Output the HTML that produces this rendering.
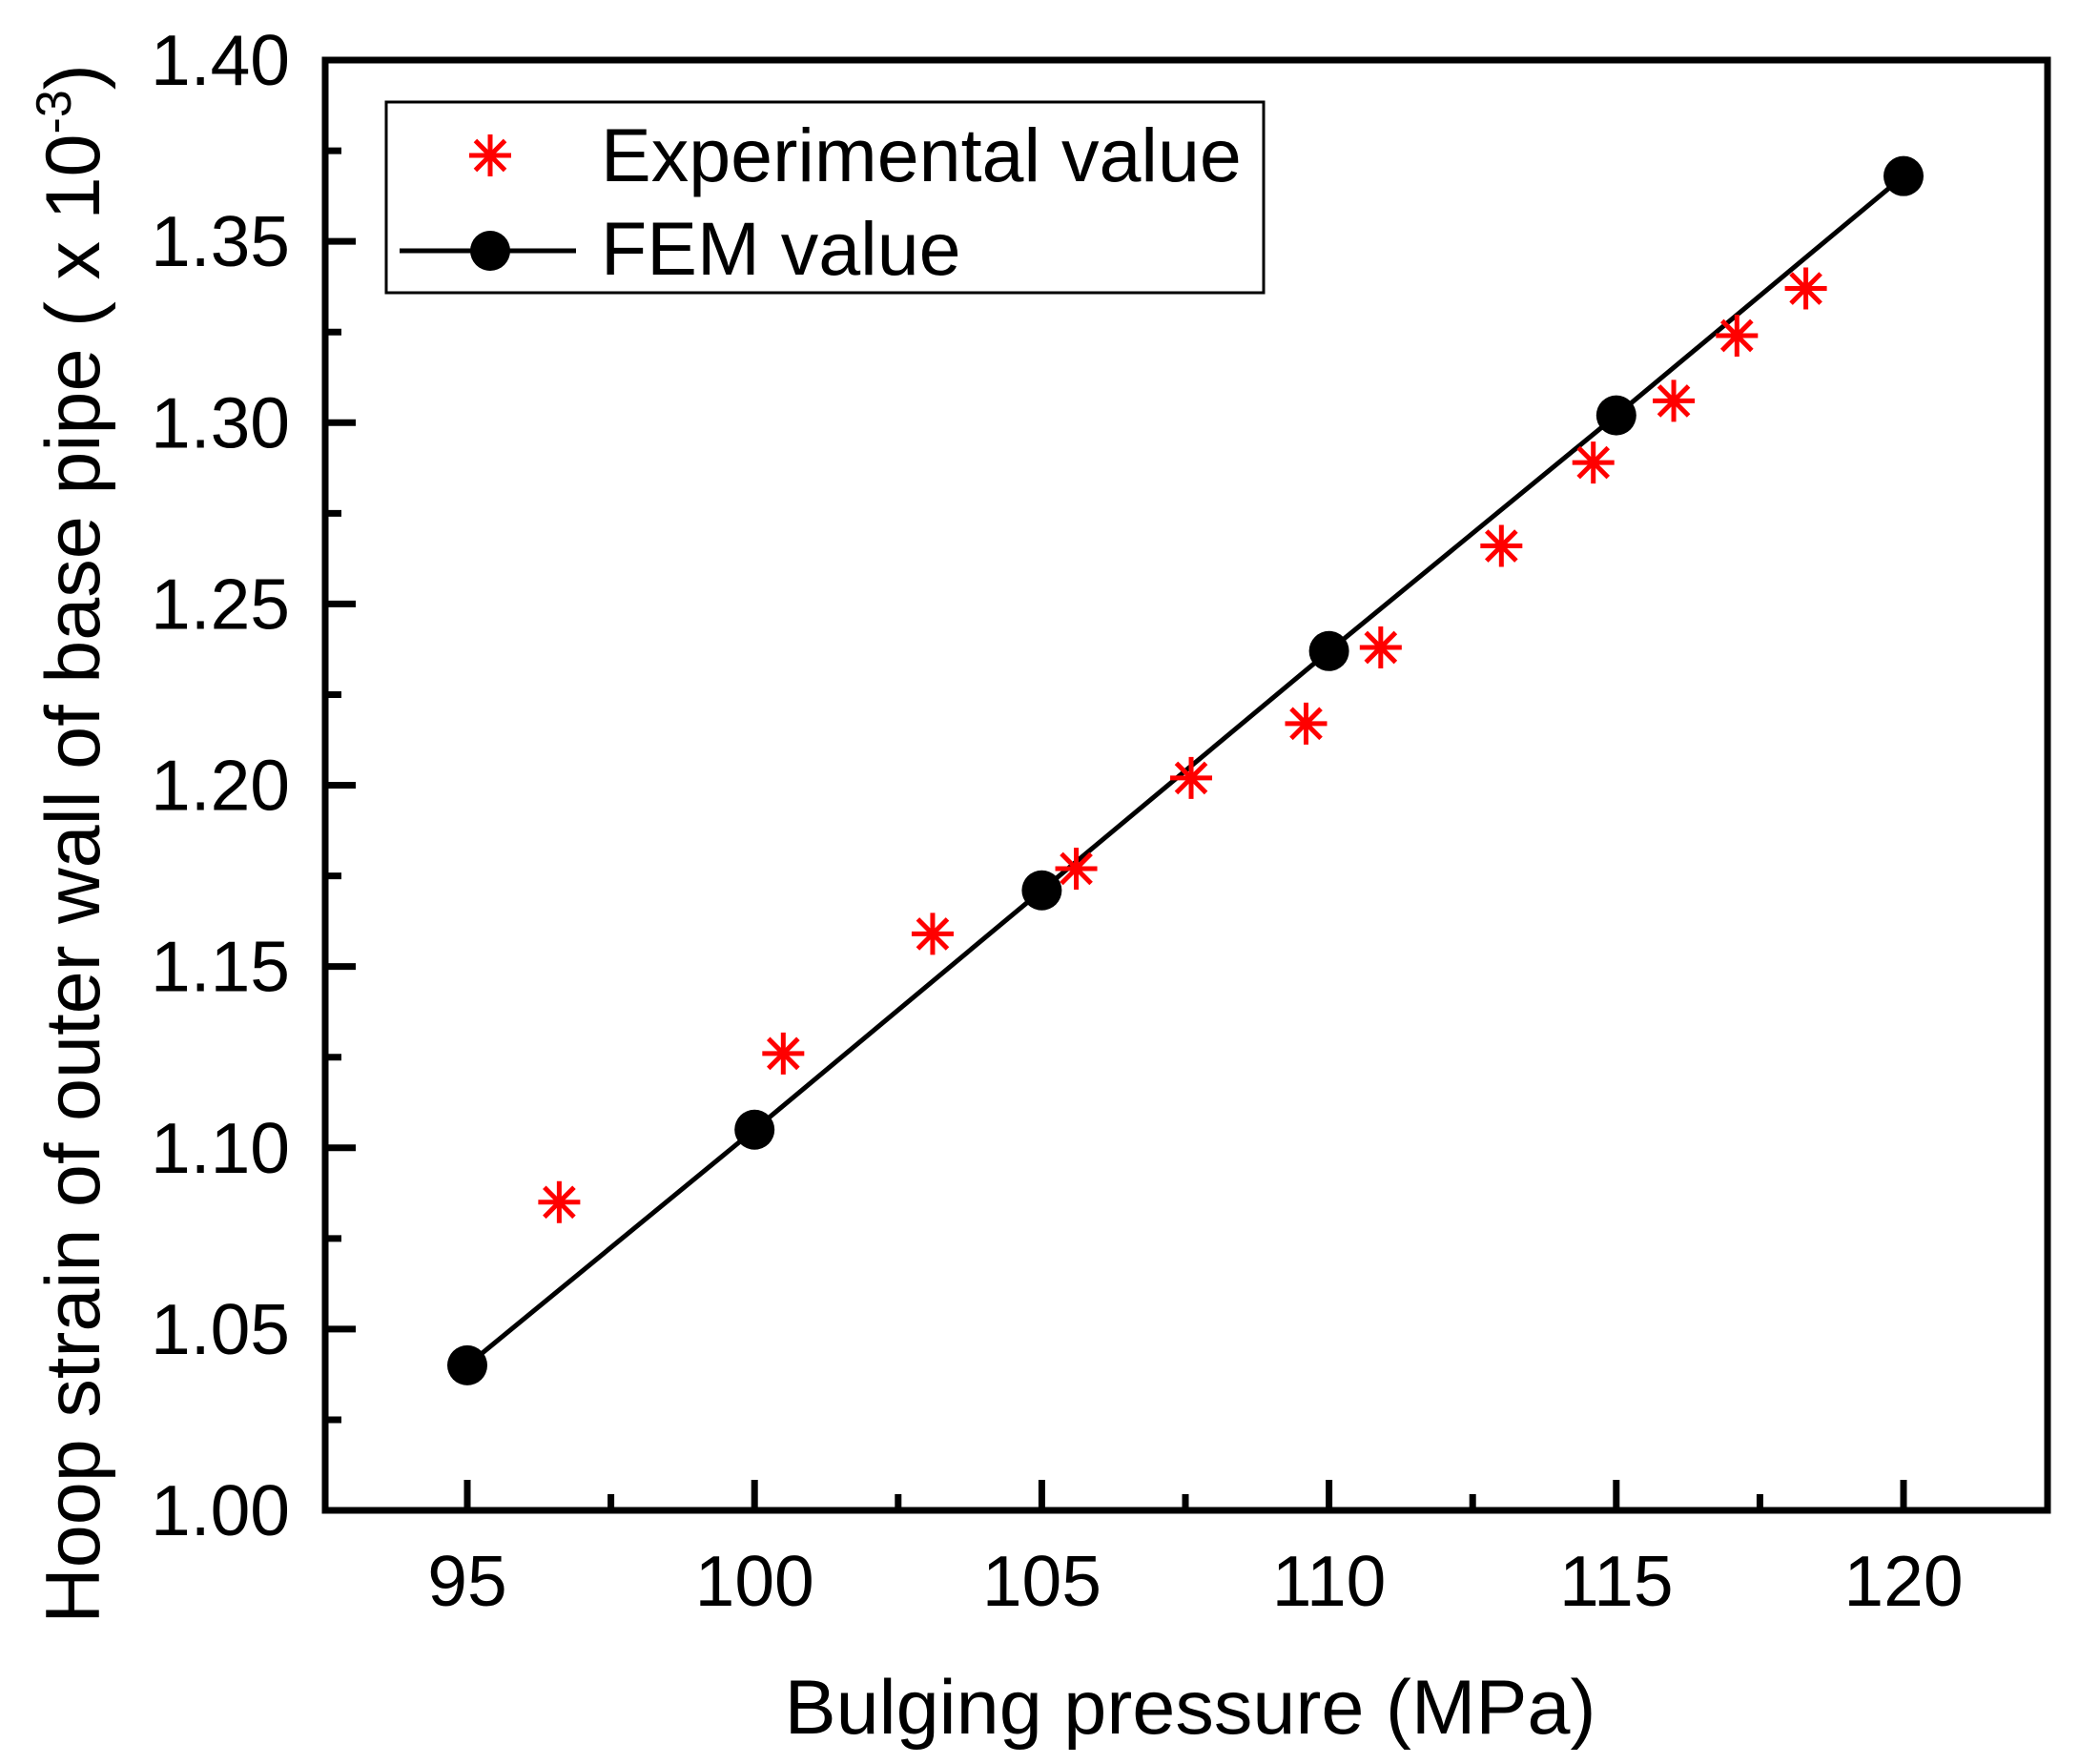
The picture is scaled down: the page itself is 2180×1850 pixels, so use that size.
<!DOCTYPE html>
<html><head><meta charset="utf-8"><style>
html,body{margin:0;padding:0;background:#fff;}
svg{display:block;font-family:"Liberation Sans",Arial,sans-serif;}
</style></head><body>
<svg id="chart" width="2180" height="1850" viewBox="0 0 2180 1850" xmlns="http://www.w3.org/2000/svg">
<rect x="0" y="0" width="2180" height="1850" fill="#fff"/>
<g id="grid"></g>
<rect x="341" y="63" width="1806" height="1521" fill="none" stroke="#000" stroke-width="7"/>
<g id="ticks"></g>
<g id="series"></g>
<text x="1248" y="1818" font-size="81" text-anchor="middle">Bulging pressure (MPa)</text>
<text transform="translate(104,885) rotate(-90)" font-size="81" text-anchor="middle">Hoop strain of outer wall of base pipe ( x 10<tspan dy="-30" font-size="52">-3</tspan><tspan dy="30">)</tspan></text>
<g>
<rect x="405" y="107" width="920" height="200" fill="#fff" stroke="#000" stroke-width="3"/>
<g id="legend-star"></g>
<text x="630" y="190" font-size="79">Experimental value</text>
<line x1="419" y1="263" x2="604" y2="263" stroke="#000" stroke-width="5"/>
<circle cx="514" cy="263" r="21" fill="#000"/>
<text x="630" y="288" font-size="79">FEM value</text>
</g>
</svg>
<script>
const xTicks = [95, 100, 105, 110, 115, 120];
const yTicks = [1.00, 1.05, 1.10, 1.15, 1.20, 1.25, 1.30, 1.35, 1.40];
const yTickLabels = ["1.00","1.05","1.10","1.15","1.20","1.25","1.30","1.35","1.40"];
const femX = [95, 100, 105, 110, 115, 120];
const femY = [1.040, 1.105, 1.171, 1.237, 1.302, 1.368];
const expX = [96.6, 100.5, 103.1, 105.6, 107.6, 109.6, 110.9, 113.0, 114.6, 116.0, 117.1, 118.3];
const expY = [1.085, 1.126, 1.159, 1.177, 1.202, 1.217, 1.238, 1.266, 1.289, 1.306, 1.324, 1.337];

const NS = "http://www.w3.org/2000/svg";
const X0 = 490, X1 = 1996; // 95 -> 120
const Y0 = 1584, Y1 = 63;  // 1.00 -> 1.40
function sx(v){ return X0 + (v - 95) / 25 * (X1 - X0); }
function sy(v){ return Y0 - (v - 1.0) / 0.4 * (Y0 - Y1); }
function mk(tag, attrs, parent){
  const e = document.createElementNS(NS, tag);
  for (const k in attrs) e.setAttribute(k, attrs[k]);
  parent.appendChild(e);
  return e;
}
const ticksG = document.getElementById("ticks");
xTicks.forEach((t, i) => {
  const x = sx(t);
  const l = mk("line", {x1:x, y1:Y0, x2:x, y2:Y0-32, stroke:"#000", "stroke-width":7}, ticksG);
  
  
  const lb = mk("text", {x:x, y:1684, "font-size":75, "text-anchor":"middle"}, ticksG);
  lb.textContent = String(t);
  
  
  if (i < xTicks.length - 1) {
    const xm = sx(t + 2.5);
    const m = mk("line", {x1:xm, y1:Y0, x2:xm, y2:Y0-17, stroke:"#000", "stroke-width":7}, ticksG);
    
    
  }
});
yTicks.forEach((t, i) => {
  const y = sy(t);
  const l = mk("line", {x1:341, y1:y, x2:373, y2:y, stroke:"#000", "stroke-width":7}, ticksG);
  
  
  const lb = mk("text", {x:304, y:y+26, "font-size":75, "text-anchor":"end"}, ticksG);
  lb.textContent = yTickLabels[i];
  
  
  if (i < yTicks.length - 1) {
    const ym = sy(t + 0.025);
    const m = mk("line", {x1:341, y1:ym, x2:358, y2:ym, stroke:"#000", "stroke-width":7}, ticksG);
    
    
  }
});
const sG = document.getElementById("series");
const pts = femX.map((v, i) => sx(v) + "," + sy(femY[i])).join(" ");
const pl = mk("polyline", {points:pts, fill:"none", stroke:"#000", "stroke-width":5}, sG);


function star(cx, cy, parent){
  const g = mk("g", {stroke:"#ff0000", "stroke-width":5}, parent);
  const r = 22;
  for (let a = 0; a < 4; a++) {
    const ang = a * Math.PI / 4;
    mk("line", {x1:cx - r*Math.cos(ang), y1:cy - r*Math.sin(ang), x2:cx + r*Math.cos(ang), y2:cy + r*Math.sin(ang)}, g);
  }
  return g;
}
expX.forEach((v, i) => {
  const g = star(sx(v), sy(expY[i]), sG);
  
  
});
femX.forEach((v, i) => {
  const c = mk("circle", {cx:sx(v), cy:sy(femY[i]), r:21, fill:"#000"}, sG);
  
  
});
star(514, 163, document.getElementById("legend-star"));
</script>
</body></html>
